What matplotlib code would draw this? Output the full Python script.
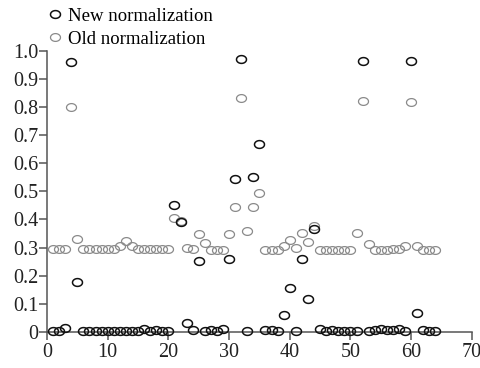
import numpy as np
import matplotlib.pyplot as plt

plt.rcParams['font.family'] = ['Liberation Serif', 'DejaVu Serif']

# sample index 1..64
idx = list(range(1, 65))

new_norm = [0.003, 0.003, 0.012, 0.962, 0.178, 0.004, 0.003, 0.002, 0.003, 0.002,
            0.003, 0.003, 0.002, 0.003, 0.003, 0.008, 0.003, 0.006, 0.004, 0.002,
            0.452, 0.392, 0.032, 0.005, 0.253, 0.002, 0.006, 0.002, 0.010, 0.258,
            0.544, 0.971, 0.003, 0.550, 0.668, 0.006, 0.005, 0.004, 0.058, 0.155,
            0.002, 0.260, 0.118, 0.365, 0.008, 0.004, 0.005, 0.003, 0.002, 0.004,
            0.004, 0.965, 0.004, 0.006, 0.008, 0.006, 0.007, 0.009, 0.004, 0.966,
            0.065, 0.005, 0.003, 0.003]

old_norm = [0.295, 0.295, 0.295, 0.800, 0.332, 0.294, 0.294, 0.294, 0.294, 0.294,
            0.294, 0.306, 0.322, 0.306, 0.293, 0.293, 0.293, 0.293, 0.293, 0.293,
            0.404, 0.395, 0.300, 0.294, 0.347, 0.316, 0.292, 0.292, 0.292, 0.347,
            0.443, 0.834, 0.360, 0.443, 0.493, 0.292, 0.292, 0.292, 0.307, 0.328,
            0.300, 0.352, 0.318, 0.375, 0.292, 0.292, 0.292, 0.292, 0.292, 0.292,
            0.353, 0.823, 0.312, 0.290, 0.292, 0.292, 0.294, 0.296, 0.306, 0.820,
            0.304, 0.292, 0.292, 0.292]

xticks = [0, 10, 20, 30, 40, 50, 60, 70]
yticks = [0, 0.1, 0.2, 0.3, 0.4, 0.5, 0.6, 0.7, 0.8, 0.9, 1.0]
ylabels = ['0', '0.1', '0.2', '0.3', '0.4', '0.5', '0.6', '0.7', '0.8', '0.9', '1.0']

# slightly flat circle marker like the original
t = np.linspace(0, 2 * np.pi, 40)
ell = np.column_stack([np.cos(t), 0.78 * np.sin(t)])

fig = plt.figure(figsize=(4.81, 3.68), dpi=100)
ax = fig.add_axes([0.0977, 0.0986, 0.8833, 0.7628])

ax.plot(idx, old_norm, linestyle='none', marker=ell, markersize=7.2,
        markerfacecolor='none', markeredgecolor='#8a8a8a', markeredgewidth=0.9,
        clip_on=False, label='Old normalization', zorder=3)
ax.plot(idx, new_norm, linestyle='none', marker=ell, markersize=7.2,
        markerfacecolor='none', markeredgecolor='#111111', markeredgewidth=1.1,
        clip_on=False, label='New normalization', zorder=4)

ax.set_xlim(0, 70)
ax.set_ylim(0, 1.0)
ax.set_xticks(xticks)
ax.set_yticks(yticks)
ax.set_yticklabels(ylabels)

for s in ['top', 'right']:
    ax.spines[s].set_visible(False)
for s in ['left', 'bottom']:
    ax.spines[s].set_color('#555555')
    ax.spines[s].set_linewidth(1.1)

ax.tick_params(axis='both', direction='out', length=5.5, width=1.1,
               color='#555555', labelsize=14.5, labelcolor='#222222')
ax.tick_params(axis='y', pad=0.5)
ax.tick_params(axis='x', pad=2.5)

h, l = ax.get_legend_handles_labels()
fig.legend(h[::-1], l[::-1], loc='upper left', bbox_to_anchor=(0.075, 1.0),
           frameon=False, fontsize=13.5, handletextpad=0.1, labelspacing=0.32,
           handlelength=1.2, borderaxespad=0)

fig.savefig('out.png', dpi=100)
